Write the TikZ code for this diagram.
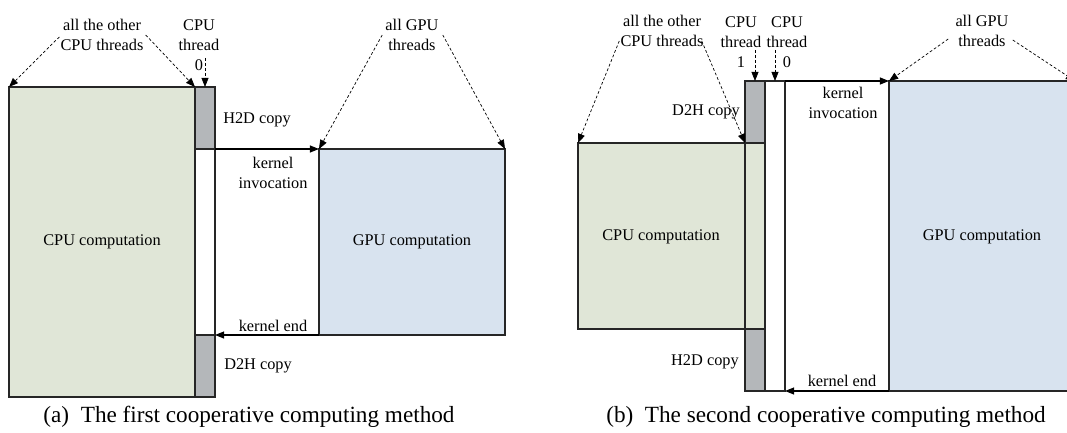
\documentclass[tikz,border=0pt]{standalone}
\usepackage{fontspec}
\setmainfont{Liberation Serif}
\usetikzlibrary{arrows.meta,calc}

\definecolor{vertcpu}{RGB}{224,230,215}
\definecolor{bleugpu}{RGB}{216,227,239}
\definecolor{griscopie}{RGB}{180,183,186}

\tikzset{
  bord/.style={draw=black!85, line width=0.75pt},
  fleche/.style={line width=0.75pt, -{Triangle[length=6.5pt,width=5pt]}},
  pointille/.style={line width=0.5pt, dash pattern=on 2pt off 1.5pt, -{Triangle[length=6.5pt,width=5pt]}},
  texte/.style={font=\fontsize{11.6}{14.2}\selectfont, inner sep=0pt, align=center},
  legende/.style={font=\fontsize{16.5}{19}\selectfont, inner sep=0pt}
}

\begin{document}
\begin{tikzpicture}[x=0.025cm, y=-0.025cm]

% Cadre
\useasboundingbox (0,0) rectangle (1067,433);
\clip (0,0) rectangle (1067,433);

%%% (a) premiere methode

% Rectangles
\fill[vertcpu] (9,87) rectangle (195,397);
\draw[bord] (9,87) rectangle (195,397);
\fill[griscopie] (195,87) rectangle (215,149);
\fill[griscopie] (195,335) rectangle (215,397);
\draw[bord] (195,87) rectangle (215,397);
\draw[bord] (195,149) -- (215,149);
\draw[bord] (195,335) -- (215,335);
\fill[bleugpu] (319,149) rectangle (505,335);
\draw[bord] (319,149) rectangle (505,335);

% Points
\coordinate (cpuA-nw) at (9,87);
\coordinate (cpuA-ne) at (195,87);
\coordinate (colA) at (205,87);
\coordinate (h2dA-se) at (215,149);
\coordinate (d2hA-ne) at (215,335);
\coordinate (gpuA-nw) at (319,149);
\coordinate (gpuA-ne) at (505,149);
\coordinate (gpuA-sw) at (319,335);
\coordinate (thrA-p) at (205,58);

% Textes
\node[texte] (autresA) at (102,35) {all the other\\CPU threads};
\node[texte] (thrA) at (199,45) {CPU\\thread\\0};
\node[texte] (lblGpuA) at (412,35) {all GPU\\threads};
\node[texte] (calcCpuA) at (102,242) {CPU computation};
\node[texte] (calcGpuA) at (412,242) {GPU computation};
\node[texte] (h2dA) at (257,120) {H2D copy};
\node[texte] (invocA) at (273,173) {kernel\\invocation};
\node[texte] (finA) at (273,326) {kernel end};
\node[texte] (d2hA) at (258,366) {D2H copy};
\node[legende] (legA) at (249,417) {(a)\enspace The first cooperative computing method};

% Fleches
\draw[fleche] (h2dA-se) -- (gpuA-nw);
\draw[fleche] (gpuA-sw) -- (d2hA-ne);
\draw[pointille] ($(autresA.west)+(-1,2)$) -- (cpuA-nw);
\draw[pointille] ($(autresA.east)+(2,0)$) -- (cpuA-ne);
\draw[pointille] (thrA-p) -- (colA);
\draw[pointille] ($(lblGpuA.west)+(-3,0)$) -- (gpuA-nw);
\draw[pointille] ($(lblGpuA.east)+(4,0)$) -- (gpuA-ne);

%%% (b) seconde methode

% Rectangles
\fill[vertcpu] (578,143) rectangle (765,329);
\draw[bord] (578,143) rectangle (745,329);
\fill[griscopie] (745,81) rectangle (765,143);
\fill[griscopie] (745,329) rectangle (765,391);
\draw[bord] (745,81) rectangle (765,391);
\draw[bord] (745,143) -- (765,143);
\draw[bord] (745,329) -- (765,329);
\draw[bord] (765,81) rectangle (785,391);
\fill[bleugpu] (889,81) rectangle (1075,391);
\draw[bord] (889,81) rectangle (1075,391);

% Points
\coordinate (cpuB-nw) at (578,143);
\coordinate (cpuB-ne) at (745,143);
\coordinate (col1B) at (755,81);
\coordinate (col0B) at (775,81);
\coordinate (thr1B-p) at (755,50);
\coordinate (thr0B-p) at (775,50);
\coordinate (col0B-ne) at (785,81);
\coordinate (col0B-se) at (785,391);
\coordinate (gpuB-nw) at (889,81);
\coordinate (gpuB-ne) at (1075,81);
\coordinate (gpuB-sw) at (889,391);

% Textes
\node[texte] (autresB) at (662,31) {all the other\\CPU threads};
\node[texte] (thr1B) at (741,42) {CPU\\thread\\1};
\node[texte] (thr0B) at (787,42) {CPU\\thread\\0};
\node[texte] (lblGpuB) at (982,31) {all GPU\\threads};
\node[texte] (calcCpuB) at (661,237) {CPU computation};
\node[texte] (calcGpuB) at (982,237) {GPU computation};
\node[texte, anchor=east] (d2hB) at (740,112) {D2H copy};
\node[texte] (invocB) at (843,103) {kernel\\invocation};
\node[texte, anchor=east] (h2dB) at (739,362) {H2D copy};
\node[texte] (finB) at (842,381) {kernel end};
\node[legende] (legB) at (826,417) {(b)\enspace The second cooperative computing method};

% Fleches
\draw[fleche] (col0B-ne) -- (gpuB-nw);
\draw[fleche] (gpuB-sw) -- (col0B-se);
\draw[pointille] ($(autresB.west)+(-1,10)$) -- (cpuB-nw);
\draw[pointille] ($(autresB.east)+(-2,10)$) -- (cpuB-ne);
\draw[pointille] (thr1B-p) -- (col1B);
\draw[pointille] (thr0B-p) -- (col0B);
\draw[pointille] ($(lblGpuB.west)+(-7,8)$) -- (gpuB-nw);
\draw[pointille] ($(lblGpuB.east)+(4,9)$) -- (gpuB-ne);

\end{tikzpicture}
\end{document}
